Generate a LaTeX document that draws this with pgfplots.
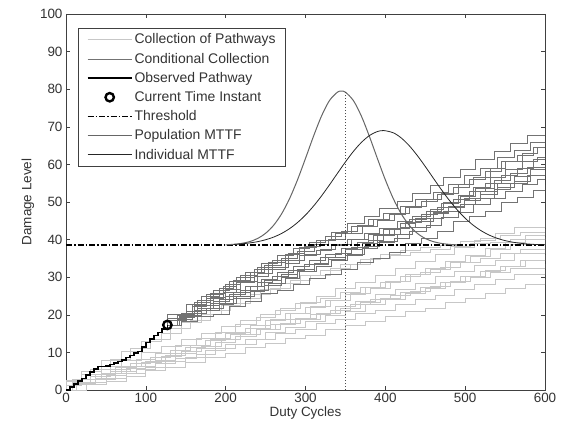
\documentclass[border=0pt]{standalone}
\usepackage{fontspec}
\setmainfont{Liberation Sans}
\usepackage{pgfplots}
\usepackage{pgfplotstable}
\pgfplotsset{compat=1.18}

% Collection of pathways (four x grids, three paths each)
\pgfplotstableread{
xA  L1   L5   L9   xB  L2   L6   L10  xC  L3   L7   L11  xD  L4   L8   L12
0   0    0    0    0   0    0    0    0   0    0    0    0   0    0    0
25  1.5  1.4  2.1  13  1.8  1.7  1.9  19  1.2  2.2  2.5  8   2.0  1.6  2.9
50  2.3  3.0  3.8  37  2.9  3.0  4.2  44  2.9  4.1  5.0  31  3.6  3.5  5.6
75  3.6  4.3  5.8  62  4.4  4.9  6.0  69  4.3  6.2  7.8  56  5.5  5.0  8.1
100 5.2  6.1  7.6  88  5.4  6.4  8.1  94  6.2  8.0  10.2 81  7.2  7.0  11.0
125 6.1  7.6  9.2  112 7.0  8.0  9.8  119 7.3  10.0 13.0 106 8.7  8.7  13.6
150 7.3  8.8  11.4 137 8.3  9.8  11.8 144 8.9  11.7 15.1 131 10.5 10.5 16.3
175 8.7  10.5 13.1 163 9.5  11.0 13.7 169 10.4 13.6 17.9 156 11.9 11.9 18.5
200 9.7  12.1 15.0 187 11.2 12.7 15.3 194 11.7 15.2 20.0 181 13.5 13.8 21.2
225 11.4 13.5 16.5 212 12.1 14.2 17.5 219 13.5 17.0 22.6 206 14.8 15.4 23.0
250 12.5 15.4 18.5 238 13.5 16.1 19.3 244 14.7 18.5 24.5 231 16.3 17.2 25.4
275 13.8 16.7 20.3 262 15.0 17.5 21.3 269 16.2 20.2 26.9 256 17.5 18.9 27.0
300 14.5 18.2 21.9 287 16.1 19.1 23.0 294 17.6 21.6 28.3 281 18.9 20.4 29.1
325 16.0 19.8 23.8 313 17.7 20.4 24.9 319 18.7 23.2 30.4 306 20.2 22.3 30.5
350 17.2 21.0 25.5 337 18.9 22.2 27.0 344 20.4 24.5 31.8 331 21.3 23.9 32.3
375 18.2 22.8 27.3 362 20.3 23.7 28.6 369 21.7 26.0 33.5 356 22.8 25.7 33.4
400 19.6 24.2 28.8 388 21.3 25.4 30.5 394 23.3 27.4 34.7 381 24.0 27.1 34.9
425 20.9 25.7 30.8 412 22.8 26.8 32.3 419 24.5 28.6 36.0 406 25.3 28.8 35.8
450 21.8 27.0 32.4 437 24.1 28.4 34.3 444 26.0 30.1 37.1 431 26.3 30.7 36.7
475 23.4 28.7 34.2 463 25.3 30.2 36.0 469 27.4 31.4 38.0 456 27.7 32.2 37.5
500 24.5 30.1 35.9 487 26.9 31.5 37.9 494 28.7 32.5 38.6 481 28.9 34.0 38.2
525 25.7 31.7 37.8 512 28.0 33.1 39.7 519 30.3 33.9 39.5 506 30.0 35.6 38.9
550 27.1 32.9 39.3 538 29.4 34.6 41.7 544 31.5 35.1 40.3 531 31.3 37.3 39.4
575 28.1 34.4 41.1 562 30.7 36.3 43.3 569 33.0 36.4 41.2 556 32.3 38.8 40.1
600 29.4 35.8 42.7 600 31.9 37.5 45.1 600 34.4 37.4 42.0 600 33.5 40.2 40.8
}\lighttab

% Conditional collection (four x grids, three paths each)
\pgfplotstableread{
xA  P1   P5   P9   xB  P2   P6   P10  xC  P3   P7   P11  xD  P4   P8   P12
127 17.3 17.3 17.3 127 17.3 17.3 17.3 127 17.3 17.3 17.3 127 17.3 17.3 17.3
145 18.3 19.5 20.4 139 18.9 19.8 20.0 151 19.0 20.0 18.6 142 19.3 20.2 19.7
165 19.5 21.7 23.8 158 20.3 22.3 22.9 170 20.8 22.8 19.8 161 21.2 23.3 22.4
185 20.2 23.6 26.6 176 21.6 24.4 25.5 192 22.6 24.9 21.3 181 23.0 25.8 24.6
205 22.3 25.4 28.9 197 23.0 26.0 27.6 210 24.2 27.0 22.9 200 24.9 28.0 26.7
225 23.6 27.6 31.3 214 24.9 28.5 29.9 231 25.9 29.1 24.4 219 26.4 30.4 28.8
245 25.6 29.5 33.6 236 26.5 30.2 32.0 249 27.6 31.2 26.3 240 28.6 32.6 30.9
265 26.6 31.3 35.7 253 28.4 32.1 33.9 270 29.1 33.2 27.9 258 30.1 34.5 32.6
285 28.0 32.9 37.6 275 29.6 33.8 36.1 290 30.8 35.0 29.9 279 31.9 36.4 34.4
305 29.8 34.6 39.4 292 31.5 35.9 38.0 311 32.0 36.8 31.6 298 33.5 38.3 36.0
325 30.7 36.1 40.9 314 33.0 37.1 39.9 329 33.6 38.7 33.5 319 35.2 39.9 37.4
345 32.2 37.8 42.3 333 34.6 38.5 42.0 350 34.7 40.1 35.3 338 36.4 41.6 38.7
365 33.9 39.4 43.9 352 36.2 40.1 44.2 371 35.9 41.6 37.3 358 37.9 43.5 40.0
385 35.0 41.0 45.4 374 38.1 41.6 46.1 390 37.6 43.6 39.0 379 39.8 45.3 41.5
405 36.6 42.9 46.8 393 39.5 43.0 48.3 411 39.2 45.2 41.1 398 41.3 47.0 42.6
425 38.9 44.6 48.6 415 41.4 44.9 50.2 430 40.3 47.0 43.0 419 43.2 48.9 44.2
445 40.4 46.7 50.2 434 43.2 46.2 52.4 451 42.1 48.8 45.3 438 44.9 50.6 45.7
465 42.3 48.5 52.0 456 45.6 48.1 54.5 470 43.9 50.7 47.4 460 47.0 52.7 47.3
485 44.8 50.6 53.9 473 47.4 49.8 56.6 491 45.8 52.4 49.6 479 48.9 54.8 48.7
505 46.1 52.8 56.1 494 49.4 51.6 58.8 510 47.2 54.6 51.9 499 51.1 57.2 50.4
525 47.6 54.9 58.2 513 51.0 53.7 61.3 531 49.4 56.6 54.0 519 52.9 59.0 52.0
545 49.9 57.1 60.7 536 53.4 55.8 63.5 550 50.9 59.0 56.5 540 55.0 61.8 53.9
565 51.2 59.0 62.4 557 55.0 57.5 65.6 571 52.8 60.8 58.6 561 56.9 63.7 55.4
585 53.0 61.3 64.5 578 57.1 59.3 67.8 590 54.6 62.9 60.7 582 58.8 65.8 57.2
600 54.6 62.8 65.9 600 58.6 60.9 69.5 600 56.0 64.6 62.0 600 60.3 67.3 58.2
}\condtab

\begin{document}
\begin{tikzpicture}
\begin{axis}[
  name=ax,
  scale only axis,
  width=479bp, height=376bp,
  xmin=0, xmax=600, ymin=0, ymax=100,
  xtick={0,100,...,600}, ytick={0,10,...,100},
  tick align=inside, tick pos=both,
  major tick length=4bp,
  axis line style={black!75, line width=0.8bp},
  every tick/.style={black!75, line width=0.6bp},
  /pgf/number format/assume math mode=true,
  tick label style={font=\fontsize{13.5}{15}\selectfont, text=black!80},
  label style={font=\fontsize{13.5}{15}\selectfont, text=black!80},
  xlabel={Duty Cycles},
  ylabel={Damage Level},
  xlabel style={yshift=3bp},
  ylabel style={yshift=-1bp},
  clip=true,
  legend cell align=left,
  legend image code/.code={\draw[mark repeat=2,mark phase=2,#1] plot coordinates {(0bp,0bp) (22bp,0bp) (44bp,0bp)};},
  legend style={at={(rel axis cs:0.026,0.964)}, anchor=north west,
    draw=black!75, line width=0.7bp,
    font=\fontsize{14}{15}\selectfont, text=black!80,
    row sep=3.6bp, inner xsep=8bp, inner ysep=4bp},
]
% Collection of pathways
\addplot[const plot, black!22, line width=0.7bp] table[x=xA,y=L1] {\lighttab};
\addlegendentry{Collection of Pathways}
\addplot[const plot, black!22, line width=0.7bp, forget plot] table[x=xA,y=L5] {\lighttab};
\addplot[const plot, black!22, line width=0.7bp, forget plot] table[x=xA,y=L9] {\lighttab};
\addplot[const plot, black!22, line width=0.7bp, forget plot] table[x=xB,y=L2] {\lighttab};
\addplot[const plot, black!22, line width=0.7bp, forget plot] table[x=xB,y=L6] {\lighttab};
\addplot[const plot, black!22, line width=0.7bp, forget plot] table[x=xB,y=L10] {\lighttab};
\addplot[const plot mark right, black!22, line width=0.7bp, forget plot] table[x=xC,y=L3] {\lighttab};
\addplot[const plot mark right, black!22, line width=0.7bp, forget plot] table[x=xC,y=L7] {\lighttab};
\addplot[const plot mark right, black!22, line width=0.7bp, forget plot] table[x=xC,y=L11] {\lighttab};
\addplot[const plot, black!22, line width=0.7bp, forget plot] table[x=xD,y=L4] {\lighttab};
\addplot[const plot, black!22, line width=0.7bp, forget plot] table[x=xD,y=L8] {\lighttab};
\addplot[const plot, black!22, line width=0.7bp, forget plot] table[x=xD,y=L12] {\lighttab};
% Conditional collection
\addplot[const plot, black!55, line width=0.7bp] table[x=xA,y=P1] {\condtab};
\addlegendentry{Conditional Collection}
\addplot[const plot, black!55, line width=0.7bp, forget plot] table[x=xA,y=P5] {\condtab};
\addplot[const plot, black!55, line width=0.7bp, forget plot] table[x=xA,y=P9] {\condtab};
\addplot[const plot, black!55, line width=0.7bp, forget plot] table[x=xB,y=P2] {\condtab};
\addplot[const plot, black!55, line width=0.7bp, forget plot] table[x=xB,y=P6] {\condtab};
\addplot[const plot, black!55, line width=0.7bp, forget plot] table[x=xB,y=P10] {\condtab};
\addplot[const plot mark right, black!55, line width=0.7bp, forget plot] table[x=xC,y=P3] {\condtab};
\addplot[const plot mark right, black!55, line width=0.7bp, forget plot] table[x=xC,y=P7] {\condtab};
\addplot[const plot mark right, black!55, line width=0.7bp, forget plot] table[x=xC,y=P11] {\condtab};
\addplot[const plot, black!55, line width=0.7bp, forget plot] table[x=xD,y=P4] {\condtab};
\addplot[const plot, black!55, line width=0.7bp, forget plot] table[x=xD,y=P8] {\condtab};
\addplot[const plot, black!55, line width=0.7bp, forget plot] table[x=xD,y=P12] {\condtab};
% Observed pathway
\addplot[const plot, black, line width=1.4bp] coordinates {
(0,0) (5,0.8) (10,1.6) (15,2.4) (20,3.1) (25,4.0) (30,4.8) (35,5.6) (40,6.2)
(45,6.3) (50,6.4) (55,6.8) (60,7.2) (65,7.6) (70,8.0) (75,8.6) (80,9.2) (85,9.8)
(90,10.3) (95,11.4) (100,12.6) (105,13.6) (110,14.5) (115,15.3) (120,16.2) (127,17.3)};
\addlegendentry{Observed Pathway}
% Current time instant
\addplot[only marks, mark=o, mark size=4.2bp, line width=2.4bp, black] coordinates {(127,17.3)};
\addlegendentry{Current Time Instant}
% Threshold
\addplot[black, line width=1.8bp, dash pattern=on 6bp off 2bp on 1.5bp off 2bp] coordinates {(0,38.5) (600,38.5)};
\addlegendentry{Threshold}
% Population MTTF
\addplot[black!60, line width=1bp, smooth] coordinates {
(200,38.61) (210,38.75) (220,38.99) (230,39.46) (240,40.30) (250,41.68) (260,43.79) (270,46.83)
(280,50.88) (290,55.90) (300,61.60) (310,67.47) (320,72.84) (330,76.97) (340,79.21)
(345,79.50) (350,79.21) (360,76.97) (370,72.84) (380,67.47) (390,61.60) (400,55.90)
(410,50.88) (420,46.83) (430,43.79) (440,41.68) (450,40.30) (460,39.46) (470,38.99)
(480,38.73) (490,38.61)};
\addlegendentry{Population MTTF}
% Individual MTTF
\addplot[black!85, line width=0.8bp, smooth] coordinates {
(210,38.70) (220,38.87) (230,39.11) (240,39.45) (250,39.96) (260,40.66) (270,41.63) (280,42.91)
(290,44.54) (300,46.53) (310,48.90) (320,51.60) (330,54.55) (340,57.62) (350,60.65)
(360,63.46) (370,65.85) (380,67.66) (390,68.73) (398,69.00) (410,68.40) (420,67.02)
(430,64.96) (440,62.37) (450,59.45) (460,56.38) (470,53.35) (480,50.49) (490,47.91)
(500,45.69) (510,43.84) (520,42.36) (530,41.21) (540,40.35) (550,39.73) (560,39.30)
(570,39.00) (580,38.81) (590,38.68) (600,38.61)};
\addlegendentry{Individual MTTF}
% Vertical dotted marker
\addplot[forget plot, black!70, line width=0.6bp, dash pattern=on 1.5bp off 1.5bp] coordinates {(350,0) (350,79.2)};
\end{axis}
\path ([shift={(-66bp,-43bp)}]ax.south west) rectangle ([shift={(18bp,14bp)}]ax.north east);
\end{tikzpicture}
\end{document}
